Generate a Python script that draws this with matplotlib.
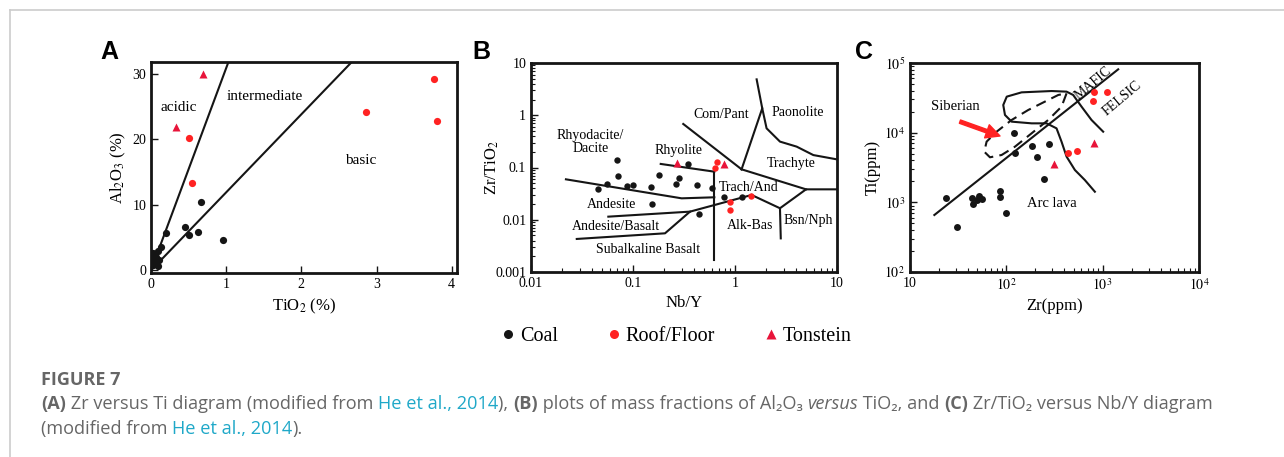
import matplotlib
matplotlib.use('Agg')
import matplotlib.pyplot as plt
from matplotlib.lines import Line2D

plt.rcParams['font.family'] = 'serif'
plt.rcParams['font.serif'] = ['Liberation Serif', 'DejaVu Serif']
plt.rcParams['mathtext.fontset'] = 'stix'

# ---- colours
BLACK = '#151515'
RED = '#ff2222'
TRI = '#e8143a'

# ---- panel A : Al2O3 vs TiO2 (%)
a_coal_ti = [0.67, 0.45, 0.50, 0.62, 0.96, 0.20, 0.13, 0.02, 0.07, 0.09, 0.05, 0.11, 0.02, 0.07, 0.015, 0.09]
a_coal_al = [10.4, 6.6, 5.4, 5.8, 4.7, 5.7, 3.6, 2.6, 2.1, 2.9, 1.6, 1.6, 0.8, 1.1, 1.85, 0.6]
a_rf_ti = [0.50, 0.54, 2.86, 3.77, 3.81]
a_rf_al = [20.2, 13.4, 24.2, 29.2, 22.8]
a_ton_ti = [0.69, 0.33]
a_ton_al = [29.9, 21.9]
a_line1 = ([0, 1.03], [0, 31.8])
a_line2 = ([0, 2.67], [0, 31.8])

# ---- panel B : Zr/TiO2 vs Nb/Y
b_coal_nby = [0.0703, 0.0718, 0.0451, 0.0552, 0.0867, 0.1007, 0.149, 0.181, 0.264, 0.285,
              0.421, 0.590, 0.343, 0.780, 1.16, 0.152, 0.447]
b_coal_zrti = [0.139, 0.0698, 0.0394, 0.0483, 0.0436, 0.0470, 0.0430, 0.0730, 0.0491, 0.0621,
               0.0456, 0.0411, 0.115, 0.0269, 0.0277, 0.0200, 0.0127]
b_rf_nby = [0.661, 0.637, 0.893, 0.893, 1.44]
b_rf_zrti = [0.126, 0.0964, 0.0222, 0.0151, 0.0285]
b_ton_nby = [0.268, 0.780]
b_ton_zrti = [0.120, 0.115]

b_bounds = [
    ([0.0220, 0.300, 0.627], [0.0594, 0.0257, 0.0269]),
    ([0.187, 0.627], [0.117, 0.0832]),
    ([0.627, 0.627], [0.0832, 0.0017]),
    ([0.0573, 0.362], [0.01146, 0.0143]),
    ([0.0281, 0.206, 0.362, 1.455], [0.00429, 0.0055, 0.0143, 0.0298]),
    ([1.455, 2.76, 4.97, 10.0], [0.0298, 0.0166, 0.0382, 0.0382]),
    ([1.16, 4.97], [0.0923, 0.0382]),
    ([0.311, 1.16], [0.681, 0.0923]),
    ([1.16, 1.85, 1.63], [0.0923, 1.355, 4.86]),
    ([1.85, 2.04, 2.76, 4.02, 5.86, 10.0], [1.355, 0.562, 0.313, 0.251, 0.173, 0.143]),
    ([2.76, 2.81], [0.0166, 0.0044]),
]
b_labels = [
    ('Com/Pant', 0.73, 1.04), ('Paonolite', 4.11, 1.14), ('Rhyodacite/\nDacite', 0.0385, 0.31),
    ('Rhyolite', 0.278, 0.210), ('Trachyte', 3.54, 0.120), ('Trach/And', 1.37, 0.0411),
    ('Andesite', 0.0622, 0.0200), ('Andesite/Basalt', 0.0676, 0.00738), ('Alk-Bas', 1.40, 0.0077),
    ('Bsn/Nph', 5.24, 0.0096), ('Subalkaline Basalt', 0.139, 0.00272),
]

# ---- panel C : Ti vs Zr (ppm)
c_coal_zr = [23.5, 30.5, 43.6, 45.4, 49.2, 52.0, 55.4, 85.9, 85.9, 98.3, 120, 123, 186, 209, 277, 244]
c_coal_ti = [1167, 438, 1143, 947, 1081, 1234, 1105, 1471, 1181, 695, 9790, 5050, 6440, 4530, 6810, 2140]
c_rf_zr = [811, 1122, 785, 432, 540]
c_rf_ti = [37900, 37900, 28800, 5160, 5520]
c_ton_zr = [314, 811]
c_ton_ti = [3550, 7030]

c_diag = ([17.9, 1449], [658, 81100])
c_solid_zr = [1012, 766, 604, 494, 422, 295, 144, 101, 92.9, 96.8, 113.5, 183, 262, 332, 374, 422, 515, 653, 830]
c_solid_ti = [10330, 15210, 23600, 34750, 38800, 39600, 37900, 32900, 24950, 17950, 14390, 13610,
              13610, 11530, 7430, 4530, 2910, 2090, 1420]
c_dash_zr = [422, 374, 272, 183, 123, 89.3, 67.6, 59.0, 62.4, 79.3, 113.5, 169, 251, 346, 422]
c_dash_ti = [36700, 23600, 15210, 9790, 6300, 4780, 4430, 5330, 7430, 10330, 15210, 21180, 27860, 34750, 36700]
c_arrow = ((33, 14400), (86, 8960))

fig = plt.figure(figsize=(12.84, 4.57), dpi=100)
W, H = 1284.0, 457.0

axA = fig.add_axes([151 / W, 1 - 273 / H, 306 / W, 211 / H])
axB = fig.add_axes([531 / W, 1 - 272 / H, 306 / W, 209 / H])
axC = fig.add_axes([910 / W, 1 - 272 / H, 289 / W, 209 / H])


def style(ax):
    for s in ax.spines.values():
        s.set_linewidth(2.0)
        s.set_color(BLACK)
    ax.tick_params(which='both', direction='in', labelsize=10, top=False, right=False, color=BLACK)
    ax.tick_params(which='major', length=5, width=1)
    ax.tick_params(which='minor', length=3, width=0.8)


def points(ax, cx, cy, rx, ry, tx, ty, ms):
    ax.plot(cx, cy, 'o', color=BLACK, ms=ms, mec='none', zorder=5)
    ax.plot(rx, ry, 'o', color=RED, ms=ms, mec='none', zorder=5)
    ax.plot(tx, ty, '^', color=TRI, ms=ms + 0.8, mec='none', zorder=5)


# panel A
style(axA)
axA.plot(*a_line1, color=BLACK, lw=1.5)
axA.plot(*a_line2, color=BLACK, lw=1.5)
points(axA, a_coal_ti, a_coal_al, a_rf_ti, a_rf_al, a_ton_ti, a_ton_al, 5.2)
axA.set_xlim(0, 4.07)
axA.set_ylim(-0.4, 31.8)
axA.set_xticks([0, 1, 2, 3, 4])
axA.set_yticks([0, 10, 20, 30])
axA.text(0.37, 24.9, 'acidic', fontsize=11, ha='center', va='center')
axA.text(1.51, 26.5, 'intermediate', fontsize=11, ha='center', va='center')
axA.text(2.79, 16.8, 'basic', fontsize=11, ha='center', va='center')
axA.set_xlabel('TiO$_2$ (%)', fontsize=12, labelpad=4)
axA.set_ylabel('Al$_2$O$_3$ (%)', fontsize=12, labelpad=3)

# panel B
style(axB)
axB.set_xscale('log')
axB.set_yscale('log')
for bx, by in b_bounds:
    axB.plot(bx, by, color=BLACK, lw=1.5)
points(axB, b_coal_nby, b_coal_zrti, b_rf_nby, b_rf_zrti, b_ton_nby, b_ton_zrti, 4.6)
for txt, x, y in b_labels:
    axB.text(x, y, txt, fontsize=10, ha='center', va='center', linespacing=1.0)
axB.set_xlim(0.01, 10)
axB.set_ylim(0.001, 10)
axB.set_xticks([0.01, 0.1, 1, 10], ['0.01', '0.1', '1', '10'])
axB.set_yticks([0.001, 0.01, 0.1, 1, 10], ['0.001', '0.01', '0.1', '1', '10'])
axB.set_xlabel('Nb/Y', fontsize=12, labelpad=4)
axB.set_ylabel('Zr/TiO$_2$', fontsize=12, labelpad=-4)

# panel C
style(axC)
axC.set_xscale('log')
axC.set_yscale('log')
axC.plot(*c_diag, color=BLACK, lw=1.5)
axC.plot(c_solid_zr, c_solid_ti, color=BLACK, lw=1.5)
axC.plot(c_dash_zr, c_dash_ti, color=BLACK, lw=1.5, ls=(0, (5, 3)))
axC.annotate('', xy=c_arrow[1], xytext=c_arrow[0],
             arrowprops=dict(facecolor=RED, edgecolor=RED, width=2.5, headwidth=10, headlength=10))
points(axC, c_coal_zr, c_coal_ti, c_rf_zr, c_rf_ti, c_ton_zr, c_ton_ti, 5.0)
axC.text(29.3, 23600, 'Siberian', fontsize=10.5, ha='center', va='center')
axC.text(295, 968, 'Arc lava', fontsize=10.5, ha='center', va='center')
axC.text(800, 52000, 'MAFIC', fontsize=10, ha='center', va='center', rotation=40)
axC.text(1570, 31000, 'FELSIC', fontsize=10, ha='center', va='center', rotation=40)
axC.set_xlim(10, 1e4)
axC.set_ylim(1e2, 1e5)
axC.set_xticks([10, 1e2, 1e3, 1e4], ['10', '$10^2$', '$10^3$', '$10^4$'])
axC.set_yticks([1e2, 1e3, 1e4, 1e5], ['$10^2$', '$10^3$', '$10^4$', '$10^5$'])
axC.set_xlabel('Zr(ppm)', fontsize=12, labelpad=4)
axC.set_ylabel('Ti(ppm)', fontsize=12, labelpad=3)

# panel letters
for letter, x in [('A', 109), ('B', 481), ('C', 864)]:
    fig.text(x / W, 1 - 52 / H, letter, fontsize=18, fontweight='bold', family='Liberation Sans',
             ha='center', va='center')

# legend
handles = [
    Line2D([], [], marker='o', ls='none', color=BLACK, ms=6.5, mec='none'),
    Line2D([], [], marker='o', ls='none', color=RED, ms=6.5, mec='none'),
    Line2D([], [], marker='^', ls='none', color=TRI, ms=7.5, mec='none'),
]
fig.legend(handles, ['Coal', 'Roof/Floor', 'Tonstein'], loc='center', bbox_to_anchor=(677 / W, 1 - 336 / H),
           ncol=3, frameon=False, fontsize=14.5, handlelength=0.6, handletextpad=0.3, columnspacing=2.45)

# card frame
fig.add_artist(Line2D([10 / W, 1], [1 - 9.5 / H, 1 - 9.5 / H], color='#cccccc', lw=1.2))
fig.add_artist(Line2D([10 / W, 10 / W], [0, 1 - 9.5 / H], color='#cccccc', lw=1.2))

# caption
GRAY = '#666666'
LINK = '#1fa8c8'
CAP = ['Open Sans', 'DejaVu Sans']
renderer = fig.canvas.get_renderer()


def caption_line(parts, x, y, size):
    for s, kind in parts:
        kw = dict(color=GRAY, family=CAP, fontsize=size, va='baseline')
        if kind == 'b':
            kw['fontweight'] = 'bold'
        elif kind == 'i':
            kw['style'] = 'italic'
        elif kind == 'l':
            kw['color'] = LINK
        t = fig.text(x / W, 1 - y / H, s, **kw)
        x += t.get_window_extent(renderer).width


fig.text(41 / W, 1 - 385 / H, 'FIGURE 7', color=GRAY, family=CAP, fontsize=13, fontweight='bold',
         va='baseline')
caption_line([('(A)', 'b'), (' Zr versus Ti diagram (modified from ', 'n'), ('He et al., 2014', 'l'),
              ('), ', 'n'), ('(B)', 'b'), (' plots of mass fractions of Al₂O₃ ', 'n'), ('versus', 'i'),
              (' TiO₂, and ', 'n'), ('(C)', 'b'), (' Zr/TiO₂ versus Nb/Y diagram', 'n')], 41, 409, 13.1)
caption_line([('(modified from ', 'n'), ('He et al., 2014', 'l'), (').', 'n')], 41, 434, 13.1)

fig.savefig('out.png', dpi=100)
